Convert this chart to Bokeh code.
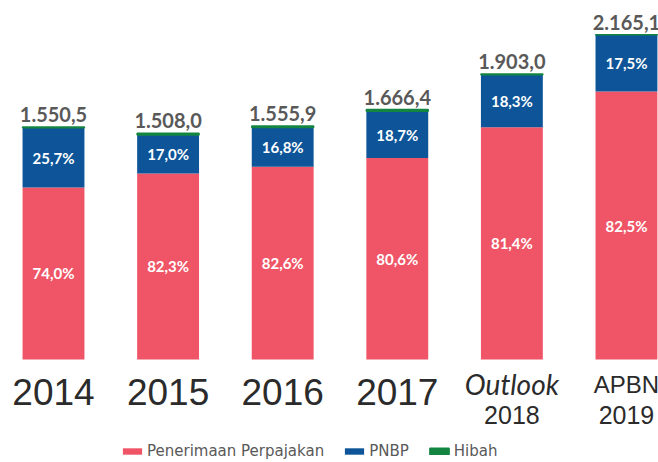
from bokeh.plotting import figure
from bokeh.models import Range1d, ColumnDataSource, Legend, LegendItem
from bokeh.core.properties import value
from bokeh.embed import file_html
from bokeh.resources import INLINE

# ---- data (triliun Rupiah) ----
years = ["2014", "2015", "2016", "2017", "2018", "2019"]
label_line1 = ["2014", "2015", "2016", "2017", "Outlook", "APBN"]
label_line2 = ["", "", "", "", "2018", "2019"]
totals = [1550.5, 1508.0, 1555.9, 1666.4, 1903.0, 2165.1]
tax = [1146.9, 1240.4, 1285.0, 1343.5, 1548.5, 1786.4]
pnbp = [398.6, 255.6, 261.9, 311.2, 349.2, 378.3]
hibah = [5.0, 11.9, 9.0, 11.6, 5.3, 0.4]
tax_pct = [74.0, 82.3, 82.6, 80.6, 81.4, 82.5]
pnbp_pct = [25.7, 17.0, 16.8, 18.7, 18.3, 17.5]

RED = "#EF5566"
BLUE = "#0D5598"
GREEN = "#138540"
GRAY = "#595959"
DARK = "#2b2b2b"


def id_fmt(v):
    s = f"{v:,.1f}"
    return s.replace(",", "X").replace(".", ",").replace("X", ".")


xs = list(range(len(years)))
tax_top = tax
pnbp_top = [a + b for a, b in zip(tax, pnbp)]
hib_top = [a + b for a, b in zip(pnbp_top, hibah)]

src = ColumnDataSource(dict(
    x=xs, tax_top=tax_top, pnbp_top=pnbp_top, hib_top=hib_top,
    tax_mid=[t / 2 for t in tax],
    pnbp_mid=[t + p / 2 for t, p in zip(tax, pnbp)],
    tax_lbl=[f"{v:.1f}%".replace(".", ",") for v in tax_pct],
    pnbp_lbl=[f"{v:.1f}%".replace(".", ",") for v in pnbp_pct],
    tot_lbl=[id_fmt(v) for v in totals],
))

p = figure(width=658, height=462, output_backend="svg", toolbar_location=None,
           x_range=Range1d(-0.4625, 5.2795), y_range=Range1d(-686.7, 2393.3),
           x_axis_location=None, y_axis_location=None, min_border=0)
p.grid.visible = False
p.outline_line_color = None
p.background_fill_color = "white"
p.border_fill_color = "white"

W = 0.54
r_tax = p.vbar(x="x", width=W, bottom=0, top="tax_top", fill_color=RED, line_color=None, source=src)
r_pnbp = p.vbar(x="x", width=W, bottom="tax_top", top="pnbp_top", fill_color=BLUE, line_color=None, source=src)
r_hib = p.vbar(x="x", width=W, bottom="pnbp_top", top="hib_top", fill_color=GREEN, line_color=GREEN,
               line_width=1.5, source=src)

# segment percentages
p.text(x="x", y="tax_mid", text="tax_lbl", source=src, text_color="white",
       text_font=value("Lato"), text_font_style="bold", text_font_size="15px",
       text_align="center", text_baseline="middle")
p.text(x="x", y="pnbp_mid", text="pnbp_lbl", source=src, text_color="white",
       text_font=value("Lato"), text_font_style="bold", text_font_size="15px",
       text_align="center", text_baseline="middle")

# totals
p.text(x="x", y="hib_top", text="tot_lbl", source=src, text_color=GRAY,
       text_font=value("Lato"), text_font_style="bold", text_font_size="20px",
       text_align="center", text_baseline="bottom", y_offset=-5)

# category labels
single = [i for i, s in enumerate(label_line2) if s == ""]
double = [i for i, s in enumerate(label_line2) if s != ""]
src1 = ColumnDataSource(dict(x=[xs[i] for i in single], y=[0] * len(single),
                             t=[label_line1[i] for i in single]))
src2a = ColumnDataSource(dict(x=[xs[i] for i in double if label_line1[i] == "Outlook"],
                              y=[0], t=["Outlook"]))
src2c = ColumnDataSource(dict(x=[xs[i] for i in double if label_line1[i] != "Outlook"],
                              y=[0] * (len(double) - 1),
                              t=[label_line1[i] for i in double if label_line1[i] != "Outlook"]))
src2b = ColumnDataSource(dict(x=[xs[i] for i in double], y=[0] * len(double),
                              t=[label_line2[i] for i in double]))

p.text(x="x", y="y", text="t", source=src1, text_color=DARK,
       text_font=value("Liberation Sans"), text_font_size="37px",
       text_align="center", text_baseline="middle", y_offset=33)
p.text(x="x", y="y", text="t", source=src2a, text_color=DARK,
       text_font=value("Lato"), text_font_style="italic", text_font_size="28px",
       text_align="center", text_baseline="middle", y_offset=25)
p.text(x="x", y="y", text="t", source=src2c, text_color=DARK,
       text_font=value("Liberation Sans"), text_font_size="24px",
       text_align="center", text_baseline="middle", y_offset=25)
p.text(x="x", y="y", text="t", source=src2b, text_color=DARK,
       text_font=value("Liberation Sans"), text_font_size="25px",
       text_align="center", text_baseline="middle", y_offset=56)

legend = Legend(items=[
    LegendItem(label="Penerimaan Perpajakan", renderers=[r_tax]),
    LegendItem(label="PNBP", renderers=[r_pnbp]),
    LegendItem(label="Hibah", renderers=[r_hib]),
], orientation="horizontal", location=(120, 1))
legend.glyph_width = 24
legend.glyph_height = 8
legend.label_standoff = 3
legend.spacing = 18
legend.padding = 0
legend.margin = 0
legend.border_line_color = None
legend.background_fill_alpha = 0
legend.label_text_font = "DejaVu Sans"
legend.label_text_font_size = "15px"
legend.label_text_color = GRAY
legend.label_height = 20
p.add_layout(legend)

open("out.html", "w").write(file_html(p, INLINE))
